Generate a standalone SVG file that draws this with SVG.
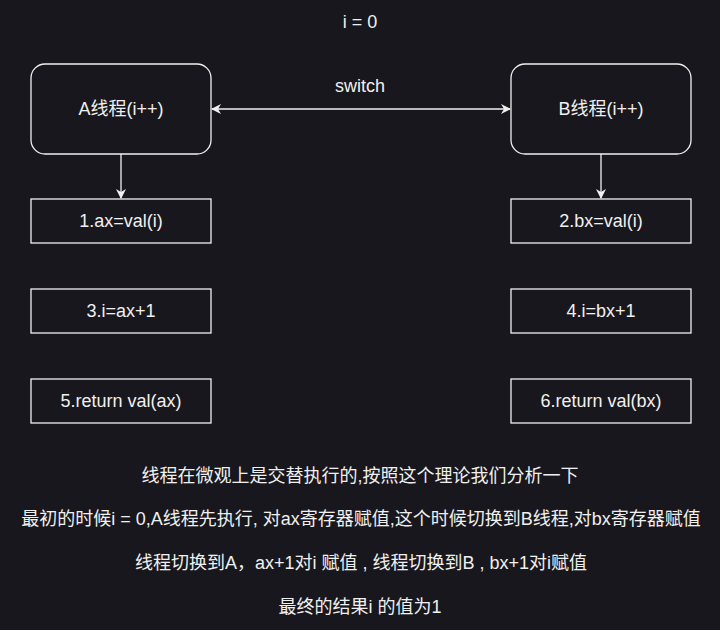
<svg xmlns="http://www.w3.org/2000/svg" width="720" height="630" viewBox="0 0 720 630">
<defs>
<style>
.bg{fill:#18171d}
.box{fill:#18171d;stroke:#f0f0f0;stroke-width:1.3}
.t{font-family:"Liberation Sans","Noto Sans CJK SC",sans-serif;font-size:18px;fill:#f0f0f0;text-anchor:middle;dominant-baseline:central}
.ln{stroke:#f0f0f0;stroke-width:1.3;fill:none}
</style>
<marker id="ah" viewBox="0 0 10 10" refX="9" refY="5" markerWidth="10" markerHeight="10" markerUnits="userSpaceOnUse" orient="auto-start-reverse">
<path d="M0,0 L10,5 L0,10 L3,5 Z" fill="#f0f0f0"/>
</marker>
</defs>
<rect class="bg" x="0" y="0" width="720" height="630"/>
<text class="t" x="360" y="22">i = 0</text>
<g id="connectors">
<line class="ln" x1="212" y1="109" x2="510" y2="109" marker-start="url(#ah)" marker-end="url(#ah)"/>
<text class="t" x="360" y="86">switch</text>
<line class="ln" x1="121" y1="154" x2="121" y2="198" marker-end="url(#ah)"/>
<line class="ln" x1="601" y1="154" x2="601" y2="198" marker-end="url(#ah)"/>
</g>
<g id="threadA"><rect class="box" x="31" y="64" width="180" height="90" rx="14"/><text class="t" x="121" y="109">A线程(i++)</text></g>
<g id="threadB"><rect class="box" x="511" y="64" width="180" height="90" rx="14"/><text class="t" x="601" y="109">B线程(i++)</text></g>
<g id="s1"><rect class="box" x="31" y="199" width="180" height="44"/><text class="t" x="121" y="221">1.ax=val(i)</text></g>
<g id="s2"><rect class="box" x="511" y="199" width="180" height="44"/><text class="t" x="601" y="221">2.bx=val(i)</text></g>
<g id="s3"><rect class="box" x="31" y="289" width="180" height="44"/><text class="t" x="121" y="311">3.i=ax+1</text></g>
<g id="s4"><rect class="box" x="511" y="289" width="180" height="44"/><text class="t" x="601" y="311">4.i=bx+1</text></g>
<g id="s5"><rect class="box" x="31" y="379" width="180" height="44"/><text class="t" x="121" y="401">5.return val(ax)</text></g>
<g id="s6"><rect class="box" x="511" y="379" width="180" height="44"/><text class="t" x="601" y="401">6.return val(bx)</text></g>
<g id="notes">
<text class="t" x="360" y="476">线程在微观上是交替执行的,按照这个理论我们分析一下</text>
<text class="t" x="361" y="519">最初的时候i = 0,A线程先执行, 对ax寄存器赋值,这个时候切换到B线程,对bx寄存器赋值</text>
<text class="t" x="361" y="563">线程切换到A，ax+1对i 赋值 , 线程切换到B , bx+1对i赋值</text>
<text class="t" x="360" y="607">最终的结果i 的值为1</text>
</g>
</svg>
